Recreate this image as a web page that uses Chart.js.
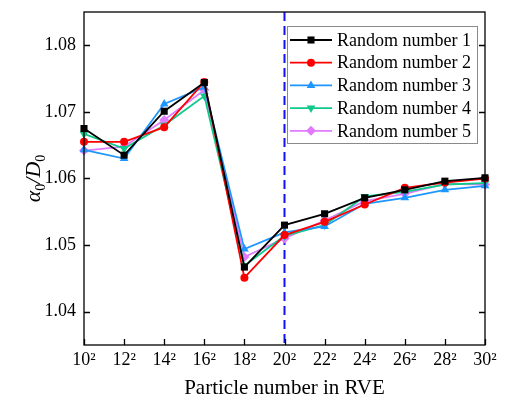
<!DOCTYPE html>
<html>
<head>
<meta charset="utf-8">
<script src="https://cdn.jsdelivr.net/npm/chart.js@4/dist/chart.umd.min.js"></script>
<style>
  html, body { margin: 0; padding: 0; background: #fff; }
  #wrap { width: 505px; height: 401px; }
</style>
</head>
<body>
<div id="wrap"><canvas id="c" width="505" height="401"></canvas></div>
<script>
// --- DATA ---
const labels = ['10²', '12²', '14²', '16²', '18²', '20²', '22²', '24²', '26²', '28²', '30²'];
const yTicks = [1.04, 1.05, 1.06, 1.07, 1.08];
const seriesNames = ['Random number 1', 'Random number 2', 'Random number 3', 'Random number 4', 'Random number 5'];
const rand1 = [1.0675, 1.0635, 1.0701, 1.0744, 1.0467, 1.0530, 1.0547, 1.0571, 1.0583, 1.0596, 1.0601];
const rand2 = [1.0655, 1.0655, 1.0677, 1.0745, 1.0451, 1.0515, 1.0535, 1.0561, 1.0586, 1.0594, 1.0600];
const rand3 = [1.0643, 1.0630, 1.0712, 1.0737, 1.0494, 1.0519, 1.0528, 1.0562, 1.0571, 1.0583, 1.0589];
const rand4 = [1.0667, 1.0645, 1.0680, 1.0724, 1.0469, 1.0514, 1.0530, 1.0573, 1.0580, 1.0591, 1.0593];
const rand5 = [1.0642, 1.0648, 1.0688, 1.0733, 1.0482, 1.0510, 1.0537, 1.0566, 1.0577, 1.0592, 1.0591];
const markedCategory = '20²';

const FONT = '"Liberation Serif", "Times New Roman", serif';

const styles = [
    { color: '#000000', pointStyle: 'rect', radius: 5, rotation: 0 },
    { color: '#FF0000', pointStyle: 'circle', radius: 4, rotation: 0 },
    { color: '#1E96FF', pointStyle: 'triangle', radius: 5, rotation: 0 },
    { color: '#0FC98A', pointStyle: 'triangle', radius: 5, rotation: 180 },
    { color: '#E07BFF', pointStyle: 'rectRot', radius: 5, rotation: 0 }
];

const datasets = [rand1, rand2, rand3, rand4, rand5].map((d, i) => ({
    label: seriesNames[i],
    data: d,
    borderColor: styles[i].color,
    backgroundColor: styles[i].color,
    borderWidth: 1.8,
    pointStyle: styles[i].pointStyle,
    pointRotation: styles[i].rotation,
    pointRadius: styles[i].radius,
    pointBorderWidth: 0,
    pointHoverRadius: styles[i].radius,
    tension: 0
}));

// frame, inward ticks, dashed marker line, y title, legend
const decor = {
    id: 'decor',
    beforeDatasetsDraw(chart) {
        const { ctx, chartArea: a, scales } = chart;
        const x = scales.x.getPixelForValue(labels.indexOf(markedCategory));
        ctx.save();
        ctx.strokeStyle = '#1010FF';
        ctx.lineWidth = 2;
        ctx.setLineDash([9, 5]);
        ctx.beginPath();
        ctx.moveTo(x, a.top);
        ctx.lineTo(x, a.bottom);
        ctx.stroke();
        ctx.restore();
    },
    afterDraw(chart) {
        const { ctx, chartArea: a, scales } = chart;
        ctx.save();
        ctx.strokeStyle = '#000';
        ctx.lineWidth = 1.3;
        ctx.strokeRect(a.left, a.top, a.right - a.left, a.bottom - a.top);
        ctx.beginPath();
        yTicks.forEach(v => {
            const y = Math.round(scales.y.getPixelForValue(v)) + 0.5;
            ctx.moveTo(a.left, y); ctx.lineTo(a.left + 6, y);
            ctx.moveTo(a.right, y); ctx.lineTo(a.right - 6, y);
        });
        labels.forEach((l, i) => {
            const x = Math.round(scales.x.getPixelForValue(i)) + 0.5;
            ctx.moveTo(x, a.bottom); ctx.lineTo(x, a.bottom - 6);
        });
        ctx.stroke();

        // y-axis title: alpha_0 / D_0
        ctx.translate(32, (a.top + a.bottom) / 2);
        ctx.rotate(-Math.PI / 2);
        ctx.fillStyle = '#000';
        ctx.textBaseline = 'alphabetic';
        const parts = [
            { t: 'α', f: 'italic 22px ' + FONT, dy: 0 },
            { t: '0', f: '14px ' + FONT, dy: 5 },
            { t: '/', f: 'italic 22px ' + FONT, dy: 0 },
            { t: 'D', f: 'italic 22px ' + FONT, dy: 0 },
            { t: '0', f: '14px ' + FONT, dy: 5 }
        ];
        let w = 0;
        parts.forEach(p => { ctx.font = p.f; w += ctx.measureText(p.t).width; });
        let cx = -w / 2;
        parts.forEach(p => {
            ctx.font = p.f;
            ctx.fillText(p.t, cx, 8 + p.dy);
            cx += ctx.measureText(p.t).width;
        });
        ctx.restore();

        // legend box
        ctx.save();
        const bx = 287, by = 26, bw = 190, bh = 117;
        ctx.fillStyle = '#fff';
        ctx.fillRect(bx, by, bw, bh);
        ctx.strokeStyle = '#8a8a8a';
        ctx.lineWidth = 1;
        ctx.strokeRect(bx + 0.5, by + 0.5, bw, bh);
        ctx.font = '18px ' + FONT;
        ctx.textBaseline = 'middle';
        chart.data.datasets.forEach((ds, i) => {
            const y = by + 14 + i * 22.7;
            ctx.strokeStyle = ds.borderColor;
            ctx.lineWidth = 1.8;
            ctx.beginPath();
            ctx.moveTo(bx + 3, y); ctx.lineTo(bx + 45, y);
            ctx.stroke();
            ctx.fillStyle = ds.backgroundColor;
            Chart.helpers.drawPoint(ctx, {
                pointStyle: ds.pointStyle, radius: ds.pointRadius,
                rotation: ds.pointRotation, borderWidth: 0
            }, bx + 24, y);
            ctx.fillStyle = '#000';
            ctx.fillText(ds.label, bx + 50, y + 1);
        });
        ctx.restore();
    }
};

new Chart(document.getElementById('c'), {
    type: 'line',
    data: { labels: labels, datasets: datasets },
    options: {
        responsive: false,
        animation: false,
        layout: { padding: { left: 0, top: 12, right: 20, bottom: 0 } },
        plugins: { legend: { display: false }, tooltip: { enabled: false } },
        scales: {
            x: {
                type: 'category',
                offset: false,
                grid: { display: false, drawTicks: false },
                border: { display: false },
                ticks: { color: '#000', font: { family: FONT, size: 18 }, padding: 4, maxRotation: 0, autoSkip: false },
                title: { display: true, text: 'Particle number in RVE', color: '#000', font: { family: FONT, size: 21 }, padding: 0 },
                afterFit: s => { s.height = 56; s.paddingLeft = 0; s.paddingRight = 0; }
            },
            y: {
                min: 1.035,
                max: 1.085,
                grid: { display: false, drawTicks: false },
                border: { display: false },
                afterBuildTicks: s => { s.ticks = yTicks.map(v => ({ value: v })); },
                ticks: { color: '#000', font: { family: FONT, size: 18 }, padding: 8, callback: v => v.toFixed(2) },
                afterFit: s => { s.width = 84; s.paddingTop = 0; s.paddingBottom = 0; }
            }
        }
    },
    plugins: [decor]
});
</script>
</body>
</html>
